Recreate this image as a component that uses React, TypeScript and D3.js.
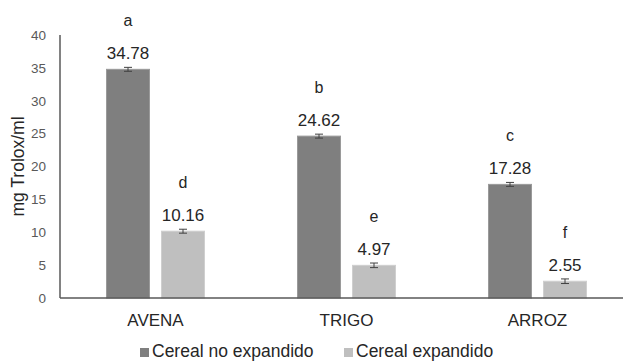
import React from "react";
import * as d3 from "d3";

// Antioxidant capacity per cereal, raw vs. puffed
const categories = ["AVENA", "TRIGO", "ARROZ"];
const seriesNames = ["Cereal no expandido", "Cereal expandido"];
const noExpandido = [34.78, 24.62, 17.28];
const expandido = [10.16, 4.97, 2.55];
const errNoExpandido = [0.3, 0.3, 0.3];
const errExpandido = [0.3, 0.35, 0.35];
const lettersNoExpandido = ["a", "b", "c"];
const lettersExpandido = ["d", "e", "f"];
const yTicks = [0, 5, 10, 15, 20, 25, 30, 35, 40];
const seriesColors = ["#7f7f7f", "#bfbfbf"];

const W = 623;
const H = 362;
const FONT = "'Liberation Sans', Arial, sans-serif";

export default function App() {
  const left = 60;
  const bottom = 298;
  const top = 35;

  const x = d3.scaleBand<string>().domain(categories).range([left, left + 573]);
  const y = d3.scaleLinear().domain([0, 40]).range([bottom, top]);

  const barW = 43;
  const gap = 12;

  const series = [
    { values: noExpandido, errs: errNoExpandido, letters: lettersNoExpandido, color: seriesColors[0], off: -(barW + gap / 2) },
    { values: expandido, errs: errExpandido, letters: lettersExpandido, color: seriesColors[1], off: gap / 2 },
  ];

  return (
    <svg
      width={W}
      height={H}
      style={{ position: "absolute", left: 0, top: 0, background: "#fff" }}
      fontFamily={FONT}
    >
      {/* bars, error bars, value labels, significance letters */}
      {series.map((s, si) =>
        categories.map((c, i) => {
          const cx = x(c)! + x.bandwidth() / 2;
          const bx = cx + s.off;
          const v = s.values[i];
          const e = s.errs[i];
          const mid = bx + barW / 2;
          const labelY = y(v) - 10.5;
          return (
            <g key={`${si}-${c}`}>
              <rect
                x={bx}
                y={y(v)}
                width={barW}
                height={bottom - y(v)}
                fill={s.color}
                stroke={si === 0 ? "#9a9a9a" : "#cfcfcf"}
                strokeWidth={1}
              />
              <g stroke="#404040" strokeWidth={1}>
                <line x1={mid} x2={mid} y1={y(v + e)} y2={y(v - e)} />
                <line x1={mid - 4} x2={mid + 4} y1={y(v + e)} y2={y(v + e)} />
                <line x1={mid - 4} x2={mid + 4} y1={y(v - e)} y2={y(v - e)} />
              </g>
              <text x={mid} y={labelY} textAnchor="middle" fontSize={17} fill="#262626">
                {v.toFixed(2)}
              </text>
              <text x={mid} y={labelY - 33} textAnchor="middle" fontSize={16} fill="#262626">
                {s.letters[i]}
              </text>
            </g>
          );
        })
      )}

      {/* axes */}
      <line x1={left} x2={W} y1={bottom} y2={bottom} stroke="#595959" strokeWidth={1.5} />
      <line x1={left} x2={left} y1={y(40)} y2={bottom} stroke="#595959" strokeWidth={1.5} />

      {yTicks.map((t) => (
        <text
          key={t}
          x={46}
          y={y(t)}
          dy="0.36em"
          textAnchor="end"
          fontSize={13.5}
          fill="#595959"
        >
          {t}
        </text>
      ))}

      {categories.map((c) => (
        <text
          key={c}
          x={x(c)! + x.bandwidth() / 2}
          y={bottom + 28}
          textAnchor="middle"
          fontSize={17}
          fill="#262626"
        >
          {c}
        </text>
      ))}

      <text
        transform={`translate(24,${(top + bottom) / 2}) rotate(-90)`}
        textAnchor="middle"
        fontSize={17.5}
        fill="#262626"
      >
        mg Trolox/ml
      </text>

      {/* legend */}
      {seriesNames.map((n, i) => {
        const lx = i === 0 ? 140 : 344;
        return (
          <g key={n}>
            <rect x={lx} y={348} width={9} height={9} fill={seriesColors[i]} />
            <text x={lx + 12} y={357} fontSize={17.5} fill="#262626">
              {n}
            </text>
          </g>
        );
      })}
    </svg>
  );
}
